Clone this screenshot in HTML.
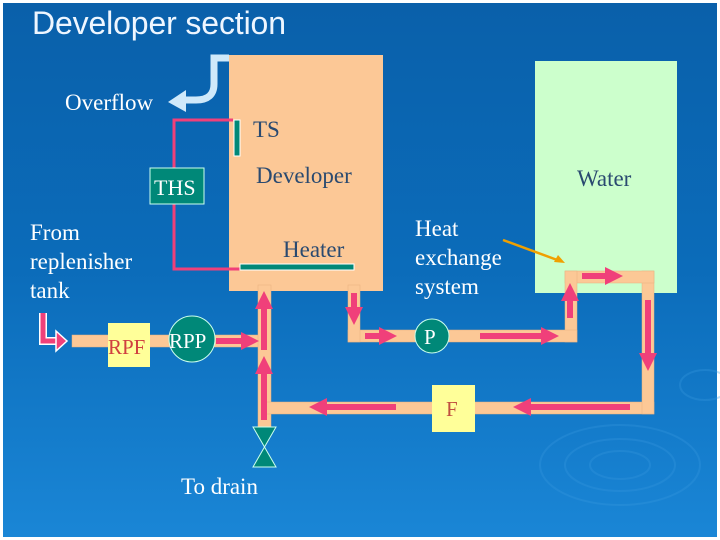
<!DOCTYPE html>
<html><head><meta charset="utf-8"><style>
html,body{margin:0;padding:0;background:#fff}
svg{display:block}
text{font-family:"Liberation Serif",serif}
</style></head><body>
<svg width="720" height="540" viewBox="0 0 720 540">
<defs>
<linearGradient id="bg" x1="0" y1="0" x2="0" y2="1">
<stop offset="0" stop-color="#0a60aa"/><stop offset="0.5" stop-color="#0b6cba"/><stop offset="1" stop-color="#1a86d6"/>
</linearGradient>
<marker id="ah" markerWidth="3" markerHeight="3" refX="1.5" refY="1.5" orient="auto" markerUnits="strokeWidth">
<path d="M0,0 L3,1.5 L0,3 Z" fill="#f0407a"/></marker>
</defs>
<rect x="0" y="0" width="720" height="540" fill="#fff"/>
<rect x="3" y="3" width="714" height="534" fill="url(#bg)"/>
<g fill="none" stroke="#3a9ae0" stroke-width="2" opacity="0.3">
<ellipse cx="620" cy="465" rx="80" ry="40"/><ellipse cx="620" cy="465" rx="55" ry="26"/><ellipse cx="620" cy="465" rx="30" ry="14"/>
<ellipse cx="705" cy="385" rx="25" ry="15"/>
</g>
<text x="32" y="34" font-size="32" textLength="254" fill="#eef6ff" style="font-family:'Liberation Sans',sans-serif">Developer section</text>
<rect x="229" y="55" width="154" height="236" fill="#fcc896"/>
<rect x="535" y="61" width="142" height="232" fill="#ccffcc"/>
<path d="M229,58 H214 V84 Q214,100 196,100 H184" fill="none" stroke="#cfe9fa" stroke-width="7"/>
<path d="M186,90 L168,102 L186,112 Z" fill="#cfe9fa"/>
<text x="65" y="110" font-size="23" fill="#fff">Overflow</text>
<path d="M233,120 H174 V269 H240" fill="none" stroke="#f0407a" stroke-width="3"/>
<rect x="234" y="120" width="6" height="36" fill="#008878" stroke="#fff" stroke-width="1"/>
<rect x="150" y="168" width="54" height="36" fill="#008878" stroke="#cfe" stroke-width="1"/>
<text x="154" y="195" font-size="22" fill="#fff">THS</text>
<text x="253" y="137" font-size="23" fill="#2a4a70">TS</text>
<text x="256" y="183" font-size="23" fill="#2a4a70">Developer</text>
<text x="283" y="257" font-size="23" fill="#2a4a70">Heater</text>
<rect x="240" y="264" width="114" height="6" fill="#008878" stroke="#fff" stroke-width="1"/>
<text x="577" y="186" font-size="23" fill="#2a4a70">Water</text>
<text x="30" y="240" font-size="23" fill="#fff">From</text>
<text x="30" y="269" font-size="23" fill="#fff">replenisher</text>
<text x="30" y="298" font-size="23" fill="#fff">tank</text>
<text x="415" y="236" font-size="23" fill="#fff">Heat</text>
<text x="415" y="265" font-size="23" fill="#fff">exchange</text>
<text x="415" y="294" font-size="23" fill="#fff">system</text>
<text x="181" y="494" font-size="23" fill="#fff">To drain</text>
<g fill="#fcc896" stroke="#e8b080" stroke-width="0.5">
<rect x="72" y="335" width="198" height="12"/>
<rect x="258" y="285" width="13" height="145"/>
<rect x="264" y="402" width="390" height="12"/>
<rect x="642" y="271" width="12" height="143"/>
<rect x="565" y="271" width="89" height="12"/>
<rect x="565" y="271" width="12" height="71"/>
<rect x="348" y="330" width="229" height="12"/>
<rect x="348" y="285" width="12" height="57"/>
</g>
<g stroke="#f0407a" stroke-width="6" fill="none" marker-end="url(#ah)">
<path d="M216,341 H250"/>
<path d="M264,350 V300"/>
<path d="M264,420 V365"/>
<path d="M354,293 V316"/>
<path d="M365,336 H388"/>
<path d="M480,336 H550"/>
<path d="M570,318 V292"/>
<path d="M582,276 H614"/>
<path d="M648,300 V362"/>
<path d="M630,407 H522"/>
<path d="M396,407 H318"/>
</g>
<path d="M43,313 V341 H58" fill="none" stroke="#fff" stroke-width="8"/>
<path d="M43,313 V341 H58" fill="none" stroke="#f0407a" stroke-width="5"/>
<path d="M56,331 L67,341 L56,351 Z" fill="#f0407a" stroke="#fff" stroke-width="1.5"/>
<line x1="503" y1="240" x2="560" y2="261" stroke="#f0a000" stroke-width="2.5"/>
<path d="M565,263 L554,262 L558,255 Z" fill="#f0a000"/>
<rect x="108" y="323" width="42" height="44" fill="#ffff99"/>
<text x="108" y="354" font-size="21" fill="#d04040">RPF</text>
<circle cx="192" cy="339" r="23" fill="#008878" stroke="#cfe" stroke-width="1"/>
<text x="169" y="348" font-size="21" fill="#fff">RPP</text>
<circle cx="432" cy="336" r="17" fill="#008878" stroke="#cfe" stroke-width="1"/>
<text x="424" y="344" font-size="21" fill="#fff">P</text>
<rect x="432" y="385" width="43" height="47" fill="#ffff99"/>
<text x="446" y="416" font-size="21" fill="#c05040">F</text>
<path d="M253,427 H276 L253,467 H276 Z" fill="#008878" stroke="#cfe" stroke-width="1"/>
</svg>
</body></html>
